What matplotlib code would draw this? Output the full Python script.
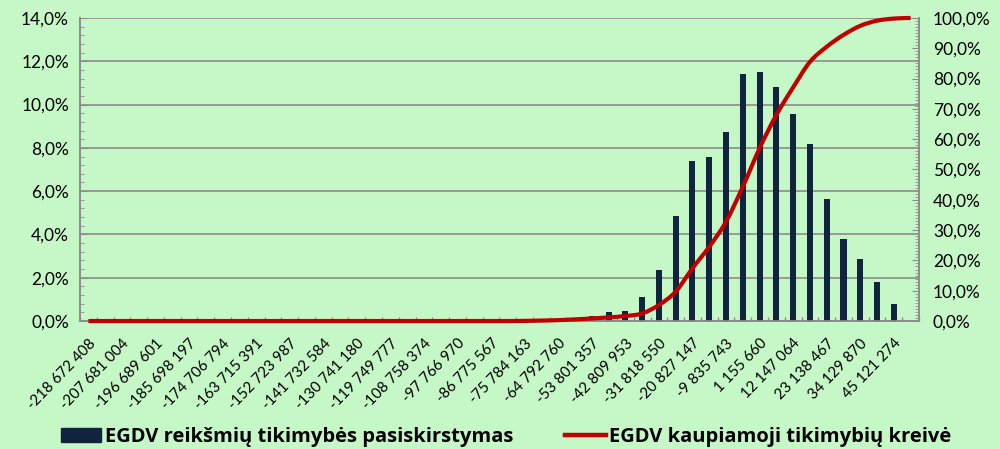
import matplotlib
matplotlib.use("Agg")
import matplotlib.pyplot as plt
import numpy as np
from matplotlib.path import Path
from matplotlib.patches import PathPatch, Patch
from matplotlib.lines import Line2D
from matplotlib.ticker import FuncFormatter, MultipleLocator

# ---------------- data ----------------
tick_labels = ["-218 672 408", "-207 681 004", "-196 689 601", "-185 698 197", "-174 706 794",
               "-163 715 391", "-152 723 987", "-141 732 584", "-130 741 180", "-119 749 777",
               "-108 758 374", "-97 766 970", "-86 775 567", "-75 784 163", "-64 792 760",
               "-53 801 357", "-42 809 953", "-31 818 550", "-20 827 147", "-9 835 743",
               "1 155 660", "12 147 064", "23 138 467", "34 129 870", "45 121 274"]

# probability per class (%), 50 classes
prob = [0, 0, 0, 0, 0, 0, 0, 0, 0, 0,
        0, 0, 0, 0, 0, 0, 0, 0, 0, 0,
        0, 0, 0, 0, 0, 0, 0, 0, 0.02, 0.05,
        0.23, 0.40, 0.45, 1.11, 2.36, 4.87, 7.39, 7.59, 8.75, 11.43,
        11.49, 10.80, 9.55, 8.17, 5.64, 3.79, 2.87, 1.79, 0.79, 0]

# cumulative probability (%)
cumul = [0, 0, 0, 0, 0, 0, 0, 0, 0, 0,
         0, 0, 0, 0, 0, 0, 0, 0, 0, 0,
         0, 0, 0, 0, 0, 0, 0.05, 0.15, 0.30, 0.55,
         0.85, 1.2, 1.65, 2.5, 5.3, 9.7, 17.4, 24.5, 32.8, 44.3,
         57.0, 68.0, 77.1, 85.5, 90.5, 94.4, 97.4, 99.1, 99.8, 100.0]

bar_label = "EGDV reikšmių tikimybės pasiskirstymas"
line_label = "EGDV kaupiamoji tikimybių kreivė"

# ---------------- style ----------------
BG = "#C6F7C6"
BAR = "#10243E"
RED = "#C00000"
GRID = "#8C8C8C"
FONT = "Lato"
LEGFONT = "Open Sans"

plt.rcParams['font.family'] = [FONT, 'DejaVu Sans']

fig = plt.figure(figsize=(10, 4.49), dpi=100, facecolor=BG)
ax = fig.add_axes([0.08, 0.285, 0.839, 0.675])
ax.set_facecolor(BG)
ax2 = ax.twinx()

n = len(prob)
x = np.arange(n)
ax.bar(x, np.array(prob) / 100.0, width=0.36, color=BAR, zorder=3)

ax.set_xlim(-0.5, n - 0.5)
ax.set_ylim(0, 0.14)
ax.yaxis.set_major_locator(MultipleLocator(0.02))
ax.yaxis.set_minor_locator(MultipleLocator(0.004))
pct = FuncFormatter(lambda v, p: f"{v*100:.1f}%".replace(".", ","))
ax.yaxis.set_major_formatter(pct)
ax.grid(axis='y', which='major', color=GRID, linewidth=1.2, zorder=1)
ax.set_axisbelow(True)

# x ticks: labels on every other class, tick marks on class boundaries
ax.set_xticks(x[::2])
ax.set_xticklabels(tick_labels, rotation=46, ha='right', va='top',
                   rotation_mode='anchor', fontsize=10.8)
ax.set_xticks(np.arange(n + 1) - 0.5, minor=True)
ax.tick_params(axis='x', which='major', length=0, pad=11)
ax.tick_params(axis='x', which='minor', length=3, direction='in', color=GRID, width=1)
ax.tick_params(axis='y', which='major', length=5, direction='in', color=GRID, labelsize=12.5, pad=8)
ax.tick_params(axis='y', which='minor', length=3, direction='in', color=GRID)

# cumulative line, smoothed (Catmull-Rom -> Bezier)
cy = np.array(cumul) / 100.0
verts = [(x[0], cy[0])]
codes = [Path.MOVETO]
for i in range(n - 1):
    p0 = (x[max(i - 1, 0)], cy[max(i - 1, 0)])
    p1 = (x[i], cy[i])
    p2 = (x[i + 1], cy[i + 1])
    p3 = (x[min(i + 2, n - 1)], cy[min(i + 2, n - 1)])
    c1 = (p1[0] + (p2[0] - p0[0]) / 6.0, p1[1] + (p2[1] - p0[1]) / 6.0)
    c2 = (p2[0] - (p3[0] - p1[0]) / 6.0, p2[1] - (p3[1] - p1[1]) / 6.0)
    verts += [c1, c2, p2]
    codes += [Path.CURVE4] * 3
ax2.add_patch(PathPatch(Path(verts, codes), facecolor='none', edgecolor=RED,
                        linewidth=3.0, capstyle='butt', zorder=4, clip_on=False))
ax2.set_ylim(0, 1.0)
ax2.yaxis.set_major_locator(MultipleLocator(0.1))
ax2.yaxis.set_minor_locator(MultipleLocator(0.01))
ax2.yaxis.set_major_formatter(pct)
ax2.tick_params(axis='y', which='major', length=5, direction='in', color=GRID, labelsize=12.5, pad=10)
ax2.tick_params(axis='y', which='minor', length=3, direction='in', color=GRID)

for a in (ax, ax2):
    for s in a.spines.values():
        s.set_color(GRID)
        s.set_linewidth(1.2)
    a.spines['top'].set_visible(False)

handles = [Patch(facecolor=BAR, edgecolor=BAR),
           Line2D([0], [0], color=RED, linewidth=3.2)]
fig.legend(handles, [bar_label, line_label], loc='center', ncol=2,
           bbox_to_anchor=(0.506, 0.027), frameon=False,
           prop={'weight': 'bold', 'size': 14.5, 'family': LEGFONT},
           handlelength=2.0, handleheight=0.72, handletextpad=0.15, columnspacing=2.6,
           borderaxespad=0, borderpad=0)

fig.savefig("out.png", dpi=100, facecolor=BG)
